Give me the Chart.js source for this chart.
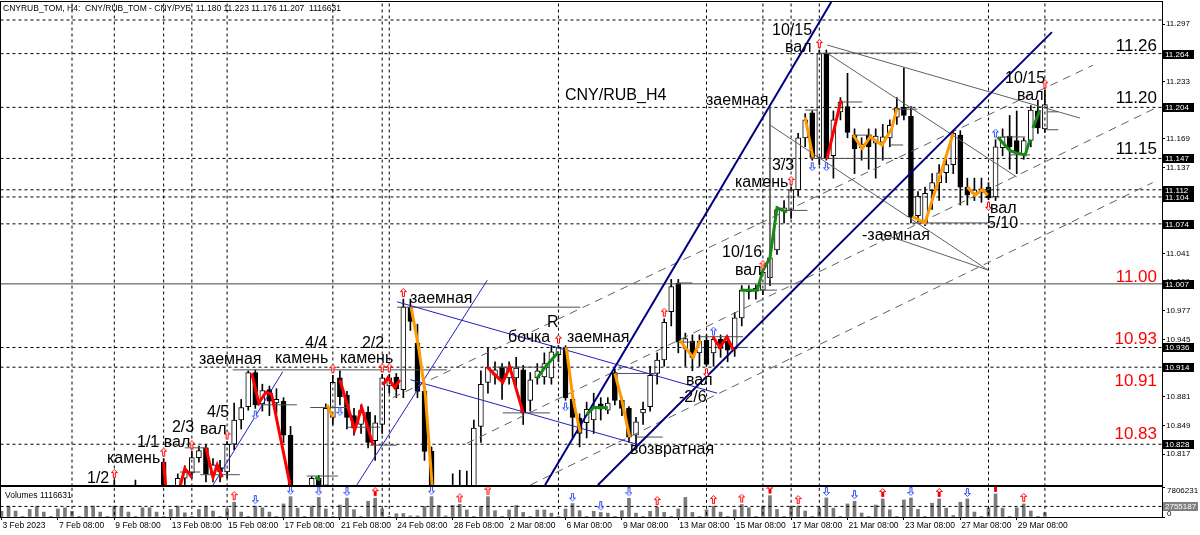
<!DOCTYPE html>
<html>
<head>
<meta charset="utf-8">
<title>CNY/RUB H4</title>
<script src="https://cdn.jsdelivr.net/npm/chart.js@4.4.1/dist/chart.umd.min.js"></script>
<style>
  body { margin: 0; background: #fff; }
  #box { position: relative; width: 1200px; height: 535px; overflow: hidden; }
  canvas { position: absolute; left: 0; }
</style>
</head>
<body>
<div id="box">
  <canvas id="price" width="1200" height="487" style="top:0"></canvas>
  <canvas id="vol" width="1200" height="49" style="top:486px"></canvas>
</div>
<script>
// H4 bars, 3 Feb 2023 08:00 -> 30 Mar 2023 08:00 (bar index = position)
const opens = [10.745,10.752,10.763,10.755,10.752,10.765,10.760,10.750,10.748,10.760,10.768,10.758,10.755,10.765,10.770,10.762,10.760,10.775,10.762,10.758,
10.772,10.760,10.768,10.808,10.772,10.778,10.790,10.796,10.813,10.824,10.795,10.802,10.797,10.828,10.855,10.870,10.908,10.873,10.889,10.874,
10.876,10.838,10.770,10.755,10.780,10.790,10.782,10.858,10.902,10.883,10.860,10.850,10.864,10.832,10.850,10.893,10.903,10.889,10.981,10.941,
10.887,10.820,10.760,10.770,10.765,10.775,10.768,10.772,10.848,10.897,10.905,10.914,10.902,10.902,10.911,10.877,10.902,10.903,10.902,10.928,
10.936,10.878,10.857,10.852,10.855,10.873,10.866,10.908,10.877,10.868,10.838,10.863,10.870,10.907,10.922,10.976,11.008,10.935,10.943,10.930,
10.944,10.930,10.945,10.943,10.934,10.969,11.001,10.999,11.000,11.014,11.045,11.088,11.090,11.112,11.170,11.198,11.148,11.264,11.150,11.199,
11.205,11.173,11.159,11.173,11.164,11.165,11.170,11.193,11.204,11.194,11.083,11.075,11.111,11.120,11.131,11.140,11.173,11.115,11.108,11.109,
11.115,11.104,11.159,11.172,11.167,11.151,11.167,11.200,11.180];
const highs = [10.760,10.768,10.772,10.760,10.770,10.778,10.768,10.756,10.765,10.772,10.777,10.762,10.770,10.775,10.778,10.768,10.788,10.780,10.770,10.788,
10.778,10.775,10.779,10.812,10.780,10.795,10.804,10.820,10.826,10.828,10.812,10.810,10.831,10.874,10.878,10.910,10.911,10.895,10.893,10.890,
10.880,10.848,10.779,10.775,10.792,10.793,10.873,10.905,10.910,10.887,10.868,10.872,10.870,10.860,10.906,10.906,10.907,10.990,10.990,10.962,
10.892,10.825,10.778,10.780,10.795,10.799,10.798,10.855,10.910,10.935,10.920,10.918,10.920,10.925,10.916,10.908,10.918,10.930,10.938,10.938,
10.938,10.882,10.862,10.875,10.885,10.880,10.880,10.912,10.880,10.870,10.858,10.875,10.915,10.930,10.968,11.012,11.012,10.952,10.950,10.950,
10.950,10.947,10.950,10.948,10.975,11.005,11.005,11.006,11.021,11.042,11.093,11.100,11.115,11.175,11.197,11.200,11.268,11.268,11.200,11.215,
11.242,11.180,11.170,11.180,11.180,11.185,11.190,11.215,11.248,11.205,11.110,11.115,11.130,11.140,11.150,11.178,11.178,11.125,11.125,11.125,
11.120,11.168,11.180,11.195,11.200,11.170,11.206,11.212,11.223];
const lows = [10.735,10.745,10.750,10.748,10.742,10.755,10.745,10.744,10.735,10.752,10.755,10.750,10.740,10.752,10.758,10.756,10.752,10.755,10.748,10.750,
10.752,10.748,10.755,10.765,10.760,10.770,10.783,10.790,10.808,10.786,10.786,10.786,10.790,10.822,10.845,10.866,10.868,10.865,10.860,10.862,
10.830,10.760,10.745,10.742,10.770,10.775,10.775,10.850,10.872,10.845,10.838,10.840,10.824,10.810,10.840,10.885,10.880,10.880,10.955,10.880,
10.810,10.740,10.740,10.755,10.750,10.760,10.755,10.760,10.830,10.885,10.895,10.878,10.895,10.890,10.850,10.865,10.895,10.895,10.895,10.920,
10.877,10.835,10.825,10.835,10.840,10.855,10.862,10.872,10.860,10.830,10.826,10.850,10.865,10.895,10.915,10.960,10.930,10.915,10.910,10.915,
10.915,10.915,10.925,10.920,10.926,10.960,10.990,10.990,10.995,11.005,11.040,11.075,11.080,11.105,11.160,11.145,11.140,11.145,11.125,11.190,
11.170,11.130,11.145,11.135,11.125,11.145,11.160,11.185,11.190,11.075,11.076,11.072,11.090,11.100,11.120,11.130,11.095,11.095,11.100,11.098,
11.101,11.100,11.150,11.135,11.130,11.146,11.160,11.175,11.176];
const closes = [10.752,10.763,10.755,10.752,10.765,10.760,10.750,10.748,10.760,10.768,10.758,10.755,10.765,10.770,10.762,10.760,10.775,10.762,10.758,10.772,
10.760,10.768,10.770,10.772,10.778,10.790,10.797,10.813,10.821,10.795,10.805,10.797,10.828,10.855,10.869,10.908,10.872,10.888,10.876,10.878,
10.838,10.770,10.755,10.770,10.790,10.782,10.868,10.897,10.881,10.858,10.846,10.866,10.830,10.852,10.902,10.902,10.890,10.981,10.965,10.887,
10.820,10.760,10.770,10.765,10.775,10.768,10.772,10.846,10.895,10.914,10.911,10.900,10.913,10.913,10.863,10.900,10.910,10.918,10.931,10.936,
10.880,10.858,10.840,10.867,10.869,10.867,10.874,10.877,10.868,10.836,10.853,10.867,10.905,10.922,10.964,11.004,10.942,10.946,10.925,10.943,
10.917,10.945,10.935,10.933,10.969,11.000,10.998,11.002,11.020,11.036,11.090,11.092,11.112,11.170,11.190,11.148,11.264,11.147,11.190,11.210,
11.176,11.158,11.163,11.160,11.172,11.171,11.184,11.203,11.195,11.082,11.105,11.108,11.120,11.131,11.140,11.175,11.115,11.106,11.112,11.113,
11.103,11.160,11.171,11.160,11.153,11.167,11.201,11.181,11.207];
const volumes = [1500000,2830000,1550000,60000, 1970000,2740000,1280000,60000, 2100000,2400000,1500000,60000, 2560000,2830000,1280000,60000,
2830000,2740000,1280000,60000, 2400000,2400000,1280000,60000, 1970000,2830000,1100000,60000, 1970000,2830000,1550000,60000,
2100000,3860000,1280000,60000, 2830000,2400000,1280000,60000, 3400000,5300000,2300000,60000, 2830000,5100000,2100000,60000,
3100000,4900000,1900000,60000, 4100000,4900000,2100000,60000, 850000,900000,280000,280000, 2750000,5300000,3000000,280000,
3000000,3300000,1840000,60000, 2750000,5300000,1650000,60000, 1840000,3000000,1200000,60000, 1840000,1840000,1000000,60000,
2100000,3500000,1650000,60000, 1470000,1200000,1000000,60000, 1650000,4870000,1000000,60000, 1470000,2570000,1200000,60000,
2100000,5100000,1200000,60000, 1880000,2830000,1280000,60000, 1880000,3250000,2400000,60000, 2830000,5550000,1970000,60000,
2830000,2830000,1550000,60000, 2400000,4960000,2300000,60000, 3400000,4100000,1030000,60000, 3100000,4700000,1880000,60000,
4450000,4960000,1970000,60000, 3600000,4700000,2300000,400000, 3860000,4700000,1280000,60000, 2400000,6000000,2300000,60000,
2400000,3400000,1550000,60000, 1116631];

// time axis
const tickBars = [0,8,16,24,32,40,48,56,64,72,80,88,96,104,112,120,128,136,144];
const tickLabels = ["3 Feb 2023","7 Feb 08:00","9 Feb 08:00","13 Feb 08:00","15 Feb 08:00","17 Feb 08:00","21 Feb 08:00","24 Feb 08:00",
"28 Feb 08:00","2 Mar 08:00","6 Mar 08:00","9 Mar 08:00","13 Mar 08:00","15 Mar 08:00","17 Mar 08:00","21 Mar 08:00","23 Mar 08:00",
"27 Mar 08:00","29 Mar 08:00"];
// price axis
const priceTicks = [11.297,11.265,11.233,11.201,11.169,11.137,11.105,11.073,11.041,11.009,10.977,10.945,10.913,10.881,10.849,10.817];
const levelPrices = [11.264,11.204,11.147,11.112,11.104,11.074,11.007,10.936,10.914,10.828];
const topLine = 11.3015;
const volTicks = [0,7806231];
const volLevel = 2755187;
// vertical marker lines (bar index)
const markBars = [10,16,23,27,32,47,54,55,79,100,108,112,116,140,148];
// fractal arrows (bar index)
const upRedBars = [16,23,27,32,47,54,55,57,79,94,108,112,116,148];
const downBlueBars = [36,48,80,115,117];
const downRedBars = [100,140];
const upBlueBars = [101,141];
const volUpBars = [33,65,69,93,101,105,113,145];
const volUpFilledBars = [53,109,125,133,141];
const volDownBars = [36,41,45,49,61,81,85,89,117,121,129,137];

// drawn objects, [bar, price]
const navyLines = [[[77.1,10.7825],[117.7,11.3216]], [[84.6,10.7825],[149.0,11.288]]];
const channelLines = [[[55.5,10.880],[154.8,11.251]], [[66.0,10.829],[163.9,11.204]], [[75.0,10.7825],[163.3,11.120]]];
const blueLines = [[[56.1,10.987],[101.5,10.885]], [[58.0,10.900],[90.6,10.827]], [[50.4,10.7825],[68.9,11.011]], [[30.0,10.7825],[39.9,10.909]]];
const grayLines = [[[117.1,11.2736],[153.0,11.192]], [[117.1,11.2646],[144.0,11.1263]], [[109.0,11.1843],[139.9,11.0225]],
  [[124.6,11.0638],[139.9,11.0225]], [[115.8,11.2646],[130.0,11.2646]], [[109.0,11.204],[109.0,11.011]]];
// short horizontal segments: [price, fromBar, toBar]
const shortLevels = [[10.824,26.0,29.2],[10.797,25.3,28.2],[10.794,28.2,33.8],[10.911,32.8,63.2],[10.872,36.2,41.9],[10.981,56.1,82.1],
  [10.827,52.3,56.1],[10.869,43.8,49.2],[10.847,49.0,53.7],[10.936,79.6,84.9],[10.914,69.7,77.4],[10.863,71.1,77.8],
  [10.907,87.0,93.0],[10.836,90.1,93.8],[11.008,95.8,98.0],[10.942,95.8,98.1],[11.000,104.8,110.0],[10.936,103.8,105.9],
  [10.948,99.1,105.2],[11.089,111.1,114.3],[11.201,114.0,115.7],[11.210,119.0,122.1],[11.147,114.7,126.3],[11.173,120.8,123.5],
  [11.162,126.0,127.9],[11.202,126.3,129.9],[11.075,129.2,139.9],[11.171,141.9,145.2],[11.151,143.0,145.9],[11.179,148.0,149.9],
  [11.199,148.3,149.9],[10.7925,43.3,47.7]];
// zigzag overlays
const redZig = [[23.0,10.808],[23.3,10.78],null,[25.3,10.78],[26.0,10.801],[27.0,10.791],null,
  [29.0,10.824],[30.0,10.791],[30.6,10.805],[31.3,10.791],null,
  [35.5,10.907],[36.5,10.874],[37.5,10.886],[38.3,10.884],[41.0,10.78],null,
  [48.0,10.900],[50.1,10.844],[51.1,10.869],[52.7,10.827],null,
  [54.1,10.894],[54.8,10.902],[55.8,10.891],[56.5,10.900],null,
  [68.9,10.914],[71.1,10.897],[72.1,10.914],[74.0,10.863],null,
  [100.9,10.948],[101.9,10.936],[102.9,10.948],[103.8,10.933],null,
  [117.1,11.147],[119.1,11.212]];
const orangeZig = [[46.2,10.872],[47.0,10.858],null,
  [58.1,10.981],[59.1,10.939],[60.1,10.885],[61.1,10.78],null,
  [80.1,10.936],[81.1,10.877],[82.1,10.841],null,
  [87.0,10.907],[88.0,10.877],[89.1,10.836],null,
  [96.2,10.944],[98.1,10.925],[99.1,10.944],null,
  [114.0,11.193],[115.1,11.148],null,
  [120.8,11.173],[122.1,11.158],[123.2,11.171],[124.9,11.162],[126.3,11.181],[127.0,11.203],null,
  [129.2,11.082],[131.0,11.075],[135.0,11.175],null,
  [137.0,11.115],[138.1,11.106],[139.1,11.112],[139.9,11.106]];
const greenZig = [[44.5,10.791],[45.2,10.788],null,
  [76.0,10.902],[77.0,10.913],[78.0,10.922],[79.0,10.931],null,
  [83.0,10.861],[84.0,10.869],[85.0,10.869],[86.0,10.869],null,
  [104.8,11.000],[107.2,11.000],[108.0,11.022],[109.0,11.036],[110.0,11.092],[111.4,11.087],null,
  [141.3,11.171],[143.0,11.156],[144.0,11.153],[145.2,11.151],[145.9,11.168],null,
  [146.3,11.181],[147.3,11.201]];

// text notes: [text, bar, price at baseline]
const notes = [
  ["1/2",12.13,10.7847],["камень",14.96,10.8070],["1/1 вал",19.22,10.8249],["2/3",24.18,10.8416],["вал",28.16,10.8394],
  ["4/5",29.15,10.8584],["заемная",28.01,10.9175],["4/4",43.05,10.9354],["камень",38.79,10.9187],["2/2",51.13,10.9354],
  ["камень",48.01,10.9187],["заемная",57.94,10.9856],["R",77.38,10.9588],["бочка",71.84,10.9421],["заемная",80.21,10.9421],
  ["вал",97.09,10.8941],["-2/6",96.10,10.8751],["возвратная",89.15,10.8171],["10/16",102.20,11.0370],["вал",104.04,11.0169],
  ["10/15",109.29,11.2847],["вал",111.13,11.2658],["заемная",99.93,11.2066],["3/3",109.29,11.1341],["камень",104.04,11.1151],
  ["-заемная",122.06,11.0559],["10/15",142.34,11.2312],["вал",144.04,11.2122],["вал",140.21,11.0861],["5/10",139.79,11.0693],
  ["CNY/RUB_H4",79.93,11.2122]];
const bigText = ["11.26","11.20","11.15","11.00","10.93","10.91","10.83"];
const bigPrice = [11.2669,11.2089,11.1519,11.0091,10.9399,10.8930,10.8339];
const bigBar = 163.9;

const FONT = '"Liberation Sans", Arial, sans-serif';
const X_MIN = -0.071, X_MAX = 164.61;
const P_MIN = 10.7825, P_MAX = 11.3216;
const bars = opens.map((o, i) => i);

function xy(pts) { return pts.map(p => ({x: p[0], y: p[1]})); }
function lineSet(pts, color, width, dash, order) {
  return {type: 'line', data: xy(pts), borderColor: color, borderWidth: width, borderDash: dash || [],
    pointRadius: 0, fill: false, tension: 0, clip: 0, order: order};
}
function pieces(list) {
  const out = []; let cur = [];
  list.forEach(p => { if (p === null) { if (cur.length) out.push(cur); cur = []; } else cur.push(p); });
  if (cur.length) out.push(cur);
  return out;
}
function arrowImg(dir, color, side, shaftFill) {
  const w = 7, ah = 9, gap = 2, h = 2 * (ah + gap);
  const c = document.createElement('canvas');
  c.width = w; c.height = h;
  const g = c.getContext('2d');
  const t = side === 'above' ? 0 : h / 2 + gap;
  const pts = dir === 'up'
    ? [[3.5,0.5],[6.5,3.5],[4.5,3.5],[4.5,ah-0.5],[2.5,ah-0.5],[2.5,3.5],[0.5,3.5]]
    : [[3.5,ah-0.5],[6.5,ah-3.5],[4.5,ah-3.5],[4.5,0.5],[2.5,0.5],[2.5,ah-3.5],[0.5,ah-3.5]];
  g.beginPath();
  pts.forEach((p, k) => k ? g.lineTo(p[0], t + p[1]) : g.moveTo(p[0], t + p[1]));
  g.closePath();
  g.fillStyle = '#fff'; g.fill();
  if (shaftFill) { g.fillStyle = shaftFill; g.fillRect(2.5, t + 4, 2, ah - 4.5); }
  g.strokeStyle = color; g.lineWidth = 1; g.stroke();
  return c;
}
function arrowSet(points, img) {
  return {type: 'line', data: points, showLine: false, pointStyle: img, pointRadius: 5, clip: 0, order: 2};
}

// ---------- price chart ----------
const ds = [];
ds.push({type: 'bar', data: bars.map(i => ({x: i, y: [lows[i], highs[i]]})), backgroundColor: '#000',
  borderWidth: 0, barThickness: 1, grouped: false, clip: 0, order: 11});
ds.push({type: 'bar', data: bars.map(i => ({x: i, y: [opens[i], closes[i]]})),
  backgroundColor: bars.map(i => closes[i] >= opens[i] ? '#fff' : '#000'), borderColor: '#000', borderWidth: 1,
  borderSkipped: false, barThickness: 5, grouped: false, clip: 0, order: 10});
levelPrices.forEach(v => ds.push(lineSet([[-1, v], [170, v]], v === 11.007 ? '#444' : '#000', 1, v === 11.007 ? [] : [3, 3], 6)));
ds.push(lineSet([[-1, topLine], [170, topLine]], '#000', 1, [3, 3], 6));
markBars.forEach(b => ds.push(lineSet([[b, 10.6], [b, 11.4]], '#000', 1, [3, 3], 6)));
shortLevels.forEach(s => ds.push(lineSet([[s[1], s[0]], [s[2], s[0]]], '#505050', 1, [], 5)));
channelLines.forEach(l => ds.push(lineSet(l, '#606060', 1, [8, 6], 5)));
grayLines.forEach(l => ds.push(lineSet(l, '#606060', 1, [], 5)));
blueLines.forEach(l => ds.push(lineSet(l, '#2020c0', 1, [], 4)));
navyLines.forEach(l => ds.push(lineSet(l, '#000080', 2, [], 4)));
pieces(redZig).forEach(p => ds.push(lineSet(p, '#ff0000', 3, [], 3)));
pieces(orangeZig).forEach(p => ds.push(lineSet(p, '#ff9900', 3, [], 3)));
pieces(greenZig).forEach(p => ds.push(lineSet(p, '#158a15', 3, [], 3)));
ds.push(arrowSet(upRedBars.map(i => ({x: i, y: highs[i]})), arrowImg('up', '#ff0000', 'above')));
ds.push(arrowSet(upBlueBars.map(i => ({x: i, y: highs[i]})), arrowImg('up', '#3050ff', 'above')));
ds.push(arrowSet(downBlueBars.map(i => ({x: i, y: lows[i]})), arrowImg('down', '#3050ff', 'below')));
ds.push(arrowSet(downRedBars.map(i => ({x: i, y: lows[i]})), arrowImg('down', '#ff0000', 'below')));

const priceDecor = {
  id: 'priceDecor',
  afterDatasetsDraw(chart) {
    const {ctx, chartArea: a, scales: {x, y}} = chart;
    ctx.save();
    ctx.beginPath(); ctx.rect(a.left, a.top, a.right - a.left, a.bottom - a.top); ctx.clip();
    ctx.fillStyle = '#000';
    ctx.textAlign = 'left'; ctx.textBaseline = 'alphabetic';
    ctx.font = '16px ' + FONT;
    notes.forEach(n => ctx.fillText(n[0], x.getPixelForValue(n[1]), y.getPixelForValue(n[2])));
    ctx.font = '17px ' + FONT;
    ctx.textAlign = 'right';
    bigText.forEach((t, i) => {
      ctx.fillStyle = i < 3 ? '#000' : '#ff0000';
      ctx.fillText(t, x.getPixelForValue(bigBar), y.getPixelForValue(bigPrice[i]));
    });
    ctx.fillStyle = '#000'; ctx.textAlign = 'left'; ctx.textBaseline = 'top';
    ctx.font = '8.5px ' + FONT;
    ctx.fillText('CNYRUB_TOM, H4:  CNY/RUB_TOM - CNY/РУБ  11.180 11.223 11.176 11.207  1116631', a.left + 2, a.top + 2);
    ctx.restore();
  },
  afterDraw(chart) {
    const {ctx, chartArea: a, scales: {y}} = chart;
    ctx.save();
    ctx.strokeStyle = '#000'; ctx.lineWidth = 1;
    ctx.strokeRect(a.left - 0.5, a.top - 0.5, a.right - a.left + 1, a.bottom - a.top + 1);
    ctx.font = '8px ' + FONT; ctx.textBaseline = 'middle'; ctx.textAlign = 'left';
    levelPrices.forEach(v => {
      const py = Math.round(y.getPixelForValue(v));
      ctx.fillStyle = '#000'; ctx.fillRect(a.right + 1, py - 4, 31, 9);
      ctx.fillStyle = '#fff'; ctx.fillText(v.toFixed(3), a.right + 3, py + 0.5);
    });
    ctx.restore();
  }
};

new Chart(document.getElementById('price'), {
  type: 'bar',
  data: {datasets: ds},
  options: {
    responsive: false, animation: false, events: [], devicePixelRatio: 1,
    layout: {autoPadding: false, padding: {left: 1, right: 0, top: 2, bottom: 2}},
    plugins: {legend: {display: false}, tooltip: {enabled: false}},
    scales: {
      x: {type: 'linear', display: false, min: X_MIN, max: X_MAX, offset: false, grid: {offset: false}},
      y: {type: 'linear', position: 'right', min: P_MIN, max: P_MAX, beginAtZero: false,
        afterFit: s => { s.width = 38; s.paddingTop = 0; s.paddingBottom = 0; },
        afterBuildTicks: s => { s.ticks = priceTicks.map(v => ({value: v})); },
        ticks: {autoSkip: false, padding: 1, color: '#000', font: {size: 8, family: FONT}, callback: v => v.toFixed(3)},
        grid: {drawOnChartArea: false, drawTicks: true, tickLength: 3, color: '#000'},
        border: {display: true, color: '#000'}}
    }
  },
  plugins: [priceDecor]
});

// ---------- volume chart ----------
const vds = [];
vds.push({type: 'bar', data: bars.map(i => ({x: i, y: volumes[i]})), backgroundColor: '#7a7a7a',
  borderWidth: 0, barThickness: 3, grouped: false, clip: 0, order: 10});
vds.push(lineSet([[-1, volLevel], [170, volLevel]], '#000', 1, [3, 3], 6));
markBars.forEach(b => vds.push(lineSet([[b, -1e6], [b, 1e7]], '#000', 1, [3, 3], 6)));
vds.push(arrowSet(volUpBars.map(i => ({x: i, y: volumes[i]})), arrowImg('up', '#ff0000', 'above')));
vds.push(arrowSet(volUpFilledBars.map(i => ({x: i, y: volumes[i]})), arrowImg('up', '#ff0000', 'above', '#e00000')));
vds.push(arrowSet(volDownBars.map(i => ({x: i, y: volumes[i]})), arrowImg('down', '#3050ff', 'above')));

const volDecor = {
  id: 'volDecor',
  afterDraw(chart) {
    const {ctx, chartArea: a, scales: {y}} = chart;
    ctx.save();
    ctx.strokeStyle = '#000'; ctx.lineWidth = 1;
    ctx.strokeRect(a.left - 0.5, a.top - 0.5, a.right - a.left + 1, a.bottom - a.top + 1);
    ctx.font = '8.5px ' + FONT; ctx.textBaseline = 'top'; ctx.textAlign = 'left'; ctx.fillStyle = '#000';
    ctx.fillText('Volumes 1116631', a.left + 4, a.top + 4);
    ctx.font = '8px ' + FONT; ctx.textBaseline = 'middle';
    ctx.fillText(String(volTicks[1]), a.right + 5, a.top + 4);
    ctx.fillText(String(volTicks[0]), a.right + 5, a.bottom - 3);
    const py = Math.round(y.getPixelForValue(volLevel));
    ctx.fillStyle = '#808080'; ctx.fillRect(a.right + 1, py - 4, 35, 9);
    ctx.fillStyle = '#fff';
    ctx.fillText(String(volLevel), a.right + 3, py + 0.5);
    ctx.restore();
  }
};

new Chart(document.getElementById('vol'), {
  type: 'bar',
  data: {datasets: vds},
  options: {
    responsive: false, animation: false, events: [], devicePixelRatio: 1,
    layout: {autoPadding: false, padding: {left: 1, right: 0, top: 1, bottom: 0}},
    plugins: {legend: {display: false}, tooltip: {enabled: false}},
    scales: {
      x: {type: 'linear', min: X_MIN, max: X_MAX, offset: false,
        afterFit: s => { s.height = 18; s.paddingLeft = 0; s.paddingRight = 0; },
        afterBuildTicks: s => { s.ticks = tickBars.map(v => ({value: v})); },
        ticks: {autoSkip: false, maxRotation: 0, align: 'start', labelOffset: 1, padding: 1, color: '#000',
          font: {size: 8.5, family: FONT}, callback: v => tickLabels[tickBars.indexOf(v)]},
        grid: {offset: false, drawOnChartArea: false, drawTicks: true, tickLength: 3, color: '#000'},
        border: {display: true, color: '#000'}},
      y: {type: 'linear', position: 'right', min: 0, max: 7806231,
        afterFit: s => { s.width = 38; s.paddingTop = 0; s.paddingBottom = 0; },
        afterBuildTicks: s => { s.ticks = volTicks.map(v => ({value: v})); },
        ticks: {autoSkip: false, padding: 1, color: '#000', font: {size: 8, family: FONT}, callback: () => ''},
        grid: {drawOnChartArea: false, drawTicks: true, tickLength: 3, color: '#000'},
        border: {display: true, color: '#000'}}
    }
  },
  plugins: [volDecor]
});
</script>
</body>
</html>
